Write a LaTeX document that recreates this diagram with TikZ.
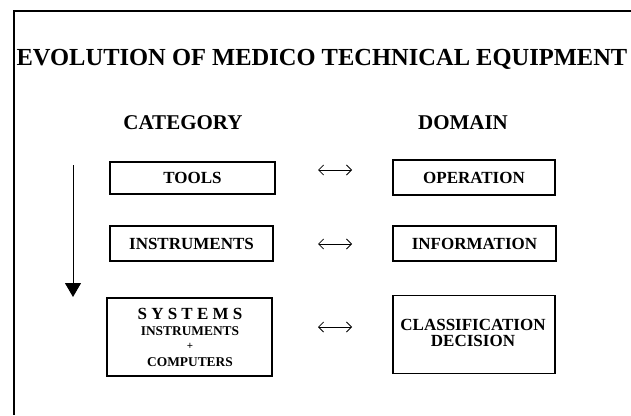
\documentclass[tikz,border=0pt]{standalone}
\usepackage{fontspec}
\setmainfont{Liberation Serif}
\usetikzlibrary{arrows.meta}
\begin{document}
\begin{tikzpicture}[x=1pt,y=-1pt,
  box/.style={draw=black, line width=1.6pt, inner sep=0pt, align=center,
    font=\fontsize{17}{18}\selectfont\bfseries},
  head/.style={inner sep=0pt, anchor=base, font=\fontsize{21}{22}\selectfont\bfseries},
  line/.style={inner sep=0pt, anchor=base, text depth=0pt, font=\fontsize{17}{18}\selectfont\bfseries},
  small/.style={inner sep=0pt, anchor=base, text depth=0pt, text height=9pt, font=\fontsize{13.4}{14}\selectfont\bfseries},
  lr/.style={line width=0.8pt, {Straight Barb[length=5pt,width=10pt]}-{Straight Barb[length=5pt,width=10pt]}},
  down/.style={line width=1pt, -{Triangle[length=14pt,width=16pt]}}]
\useasboundingbox (0,0) rectangle (631,415);
\fill[white] (0,0) rectangle (631,415);
% frame (open on right and bottom)
\coordinate (fr) at (631,11);
\coordinate (fc) at (14,11);
\coordinate (fb) at (14,415);
\draw[line width=2.5pt] (fr) -- (fc) -- (fb);
% title and headings
\node[inner sep=0pt, anchor=base, font=\fontsize{24.5}{26}\selectfont\bfseries] (title) at (322,65) {EVOLUTION OF MEDICO TECHNICAL EQUIPMENT};
\node[head] (cat) at (183,129) {CATEGORY};
\node[head] (dom) at (463,129) {DOMAIN};
% category boxes
\node[box, minimum width=165pt, minimum height=32pt] (tools) at (192.5,178) {TOOLS};
\node[box, minimum width=163pt, minimum height=35pt] (instr) at (191.5,243.5) {INSTRUMENTS};
\node[box, minimum width=165pt, minimum height=78pt] (sys) at (189.5,337) {};
\node[line, text height=11pt] (sys1) at (190,319) {S Y S T E M S};
\node[small] (sys2) at (190,335) {INSTRUMENTS};
\node[small, font=\fontsize{11}{12}\selectfont\bfseries] (sys3) at (190,349) {+};
\node[small] (sys4) at (190,366) {COMPUTERS};
% domain boxes
\node[box, minimum width=162pt, minimum height=35pt] (oper) at (474,177.5) {OPERATION};
\node[box, minimum width=163pt, minimum height=35pt] (info) at (474.5,243.5) {INFORMATION};
\node[box, minimum width=162pt, minimum height=78pt] (cls) at (474,334.5) {};
\node[line, text height=11pt] (cls1) at (473,330.5) {CLASSIFICATION};
\node[line, text height=11pt] (cls2) at (473,346) {DECISION};
% double arrows
\coordinate (a1l) at (318,170); \coordinate (a1r) at (352,170);
\coordinate (a2l) at (318,244); \coordinate (a2r) at (352,244);
\coordinate (a3l) at (318,327); \coordinate (a3r) at (352,327);
\draw[lr] (a1l) -- (a1r);
\draw[lr] (a2l) -- (a2r);
\draw[lr] (a3l) -- (a3r);
% down arrow
\coordinate (dtop) at (73,165);
\coordinate (dbot) at (73,297);
\draw[down] (dtop) -- (dbot);
\end{tikzpicture}
\end{document}
